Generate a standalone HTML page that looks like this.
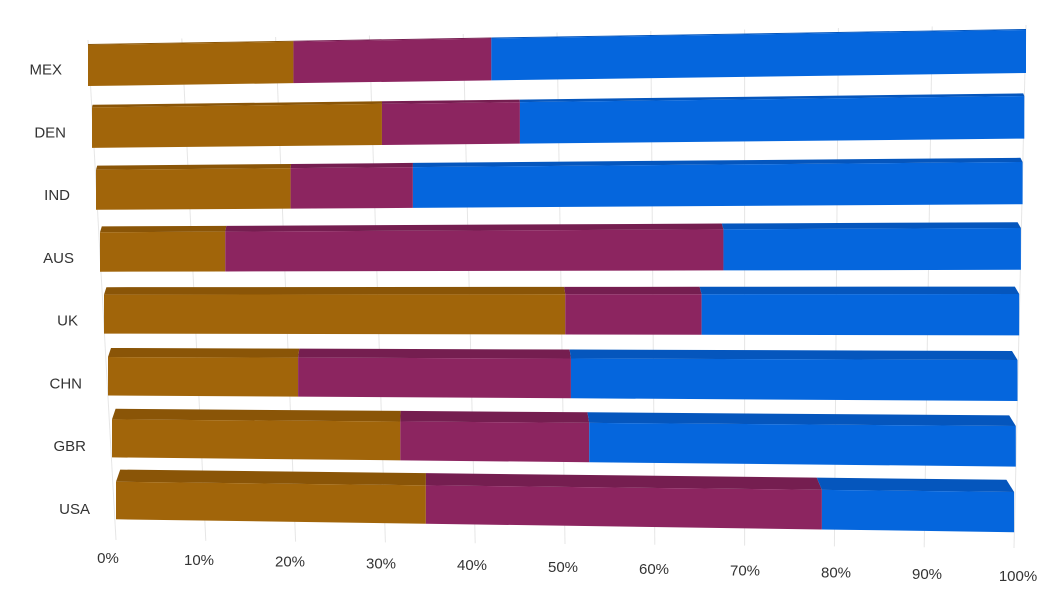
<!DOCTYPE html>
<html><head><meta charset="utf-8"><style>
body{margin:0;background:#fff;}
svg{display:block;font-family:"Liberation Sans",sans-serif;}
</style></head><body>
<svg id="chart" width="1048" height="597" viewBox="0 0 1048 597">
<g id="grid"></g>
<g id="bars"></g>
<g id="ylabels"></g>
<g id="xlabels"></g>
</svg>
<script>
const categories = ["MEX","DEN","IND","AUS","UK","CHN","GBR","USA"];
const seriesA = [21.9,31.1,21.0,13.6,50.4,20.9,31.9,34.5];
const seriesB = [21.1,14.8,13.2,54.1,14.9,30.0,20.9,44.1];
const seriesC = [57.0,54.1,65.8,32.3,34.7,49.1,47.2,21.4];
const tickLabels = ["0%","10%","20%","30%","40%","50%","60%","70%","80%","90%","100%"];
const colors = ["#a1650a","#8c2560","#0566dd"];
const topColors = ["#8a5507","#751e50","#0556bd"];
const NS="http://www.w3.org/2000/svg";
function mk(tag,attrs,parent){const e=document.createElementNS(NS,tag);for(const k in attrs)e.setAttribute(k,attrs[k]);parent.appendChild(e);return e;}
function row(i){
  return {lx:88+4*i, rx:1026-1.7*i, lyT:45+62.4*i, ryT:30+66*i, lh:41-0.5*i, rh:43-0.4*i, d:1+1.6*i};
}
function pt(r,t,bottom){
  const x=r.lx+t*(r.rx-r.lx);
  const y=r.lyT+t*(r.ryT-r.lyT)+(bottom?(r.lh+t*(r.rh-r.lh)):0);
  return [x,y];
}
const grid=document.getElementById('grid');
for(let k=0;k<tickLabels.length;k++){
  const t=k/10;
  const x1=88+938*t, y1=40-15*t;
  const x2=116+898*t, y2=540+8*t;
  const l=mk('line',{x1:x1,y1:y1,x2:x2,y2:y2,stroke:'#e6e6e6','stroke-width':1},grid);
  
  
}
const bars=document.getElementById('bars');
const series=[seriesA,seriesB,seriesC];
categories.forEach((c,i)=>{
  const r=row(i);
  const tot=seriesA[i]+seriesB[i]+seriesC[i];
  let acc=0;
  series.forEach((s,si)=>{
    const t0=acc/tot, t1=(acc+s[i])/tot; acc+=s[i];
    const a=pt(r,t0,false), b=pt(r,t1,false), cc=pt(r,t1,true), dd=pt(r,t0,true);
    const sh=(t)=>[(0.6*i)*(1-t) - 1.1*i*t, -r.d];
    const s0=sh(t0), s1=sh(t1);
    const top=mk('polygon',{points:`${a[0]},${a[1]} ${b[0]},${b[1]} ${b[0]+s1[0]},${b[1]+s1[1]} ${a[0]+s0[0]},${a[1]+s0[1]}`,fill:topColors[si]},bars);
    
    
    const f=mk('polygon',{points:`${a[0]},${a[1]} ${b[0]},${b[1]} ${cc[0]},${cc[1]} ${dd[0]},${dd[1]}`,fill:colors[si]},bars);
    
    
  });
  const yl=document.getElementById('ylabels');
  const ty=(r.lyT+r.lh/2)+9+0.6*i;
  const tx=mk('text',{x:62+4*i,y:ty,'text-anchor':'end','font-size':15,fill:'#333'},yl);
  tx.textContent=c;
  
  
});
const xl=document.getElementById('xlabels');
tickLabels.forEach((lab,k)=>{
  const t=k/10;
  const x=108+910*t, y=563+18*t;
  const e=mk('text',{x:x,y:y,'text-anchor':'middle','font-size':15,fill:'#333'},xl);
  e.textContent=lab;
  
  
});
</script>
</body></html>
